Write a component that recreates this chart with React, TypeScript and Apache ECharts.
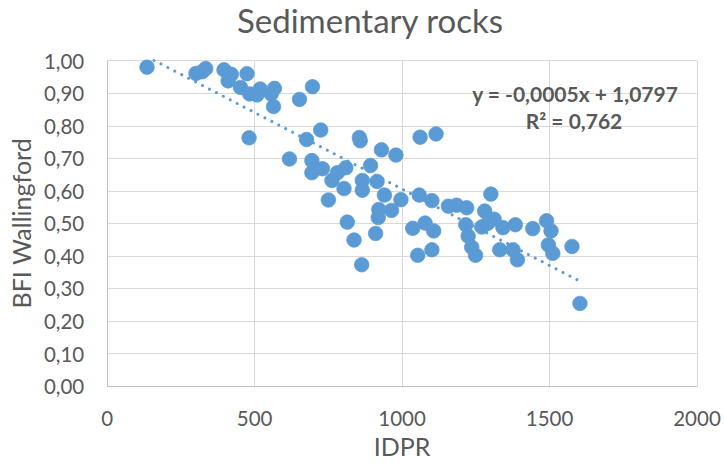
import React, { useEffect, useRef } from "react";
import * as echarts from "echarts";

const idpr = [
  135, 301, 322, 334, 396, 421, 410, 474, 452, 483, 519, 508, 567, 556, 564, 652, 696,
  481, 724, 676, 618, 694, 730, 694, 781, 809, 762, 803, 750, 855, 858, 1061, 1115,
  930, 979, 893, 865, 865, 915, 940, 996, 921, 964, 919, 814, 837, 910, 863, 1058,
  1101, 1157, 1185, 1219, 1036, 1078, 1107, 1053, 1101, 1216, 1224, 1236, 1249, 1301,
  1280, 1270, 1290, 1312, 1342, 1331, 1376, 1391, 1384, 1443, 1490, 1505, 1496, 1511,
  1576, 1603,
];
const bfi = [
  0.98, 0.961, 0.966, 0.976, 0.972, 0.958, 0.938, 0.96, 0.918, 0.898, 0.913, 0.895, 0.915,
  0.898, 0.859, 0.881, 0.92, 0.763, 0.787, 0.758, 0.698, 0.693, 0.668, 0.656, 0.656, 0.671,
  0.632, 0.607, 0.572, 0.764, 0.754, 0.765, 0.775, 0.726, 0.71, 0.678, 0.632, 0.602, 0.629,
  0.587, 0.573, 0.543, 0.54, 0.518, 0.504, 0.449, 0.469, 0.373, 0.587, 0.57, 0.553, 0.556,
  0.548, 0.485, 0.501, 0.477, 0.402, 0.419, 0.496, 0.461, 0.427, 0.402, 0.59, 0.538, 0.489,
  0.5, 0.513, 0.487, 0.419, 0.419, 0.388, 0.496, 0.484, 0.508, 0.477, 0.434, 0.408, 0.429,
  0.254,
];

const xTicks = [0, 500, 1000, 1500, 2000];
const yTicks = [0, 0.1, 0.2, 0.3, 0.4, 0.5, 0.6, 0.7, 0.8, 0.9, 1.0];

// Trendline as drawn by Excel (regression on the data)
const trendSlope = -0.00047;
const trendIntercept = 1.0757;
const equationText = "y = -0,0005x + 1,0797";
const r2Text = "R² = 0,762";

const FONT = "Lato, 'Open Sans', sans-serif";
const GRAY = "#595959";

export default function App() {
  const ref = useRef<HTMLDivElement>(null);
  useEffect(() => {
    document.body.style.margin = "0";
    const chart = echarts.init(ref.current!, undefined, { renderer: "svg" });
    const pts = idpr.map((x, i) => [x, bfi[i]]);
    const xMin = Math.min(...idpr);
    const xMax = Math.max(...idpr);
    const trend = [
      [xMin, trendIntercept + trendSlope * xMin],
      [xMax, trendIntercept + trendSlope * xMax],
    ];
    chart.setOption({
      animation: false,
      backgroundColor: "#ffffff",
      textStyle: { fontFamily: FONT },
      title: {
        text: "Sedimentary rocks",
        left: 370,
        top: 3,
        textAlign: "center",
        padding: 0,
        textStyle: { fontFamily: FONT, fontSize: 33, fontWeight: "normal", color: GRAY },
      },
      grid: { left: 103.3, top: 60.7, right: 27, bottom: 64.7, containLabel: false },
      xAxis: {
        type: "value",
        min: xTicks[0],
        max: xTicks[xTicks.length - 1],
        interval: 500,
        name: "IDPR",
        nameLocation: "middle",
        nameGap: 40,
        nameTextStyle: { fontFamily: FONT, fontSize: 25, color: GRAY },
        axisLine: { show: true, lineStyle: { color: "#BFBFBF", width: 1 } },
        axisTick: { show: false },
        axisLabel: {
          fontFamily: FONT,
          fontSize: 20.5,
          color: GRAY,
          margin: 21,
          formatter: (v: number) => String(v),
        },
        splitLine: { show: true, lineStyle: { color: "#D9D9D9", width: 1 } },
      },
      yAxis: {
        type: "value",
        min: yTicks[0],
        max: yTicks[yTicks.length - 1],
        interval: 0.1,
        name: "BFI Wallingford",
        nameLocation: "middle",
        nameGap: 70,
        nameTextStyle: { fontFamily: FONT, fontSize: 25, color: GRAY },
        axisLine: { show: true, lineStyle: { color: "#BFBFBF", width: 1 } },
        axisTick: { show: false },
        axisLabel: {
          fontFamily: FONT,
          fontSize: 20.5,
          color: GRAY,
          margin: 23,
          formatter: (v: number) => v.toFixed(2).replace(".", ","),
        },
        splitLine: { show: true, lineStyle: { color: "#D9D9D9", width: 1 } },
      },
      series: [
        {
          type: "scatter",
          data: pts,
          symbol: "circle",
          symbolSize: 14.5,
          itemStyle: { color: "#5B9BD5", borderColor: "#5B9BD5", borderWidth: 0.75, opacity: 1 },
          z: 3,
        },
        {
          type: "line",
          data: trend,
          symbol: "none",
          clip: true,
          lineStyle: { color: "#5B9BD5", width: 3, type: [0.01, 7.8], cap: "round" },
          z: 2,
          silent: true,
        },
      ],
      graphic: [
        {
          type: "text",
          x: 575,
          y: 93,
          style: {
            text: equationText,
            fill: GRAY,
            font: `bold 21px ${FONT}`,
            textAlign: "center",
            textVerticalAlign: "middle",
          },
          z: 10,
        },
        {
          type: "text",
          x: 574,
          y: 120,
          style: {
            text: r2Text,
            fill: GRAY,
            font: `bold 21px ${FONT}`,
            textAlign: "center",
            textVerticalAlign: "middle",
          },
          z: 10,
        },
      ],
    });
    return () => chart.dispose();
  }, []);
  return <div ref={ref} style={{ width: 724, height: 463 }} />;
}
